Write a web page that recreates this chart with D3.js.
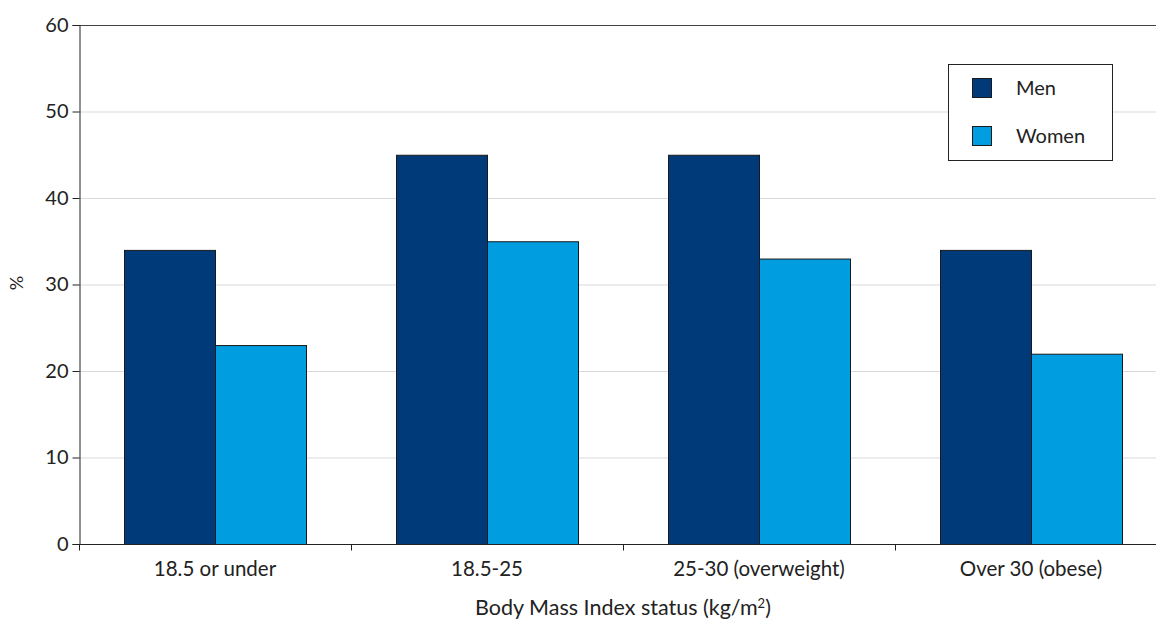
<!DOCTYPE html>
<html><head><meta charset="utf-8">
<script src="https://cdn.jsdelivr.net/npm/d3@7"></script>
<style>body{margin:0;background:#fff}svg{display:block}text{font-family:Lato,"Open Sans",sans-serif;fill:#222}</style>
</head><body><svg id="c" width="1156" height="619"></svg>
<script>
const categories = ["18.5 or under", "18.5-25", "25-30 (overweight)", "Over 30 (obese)"];
const seriesNames = ["Men", "Women"];
const men = [34, 45, 45, 34];
const women = [23, 35, 33, 22];
const yTicks = [0, 10, 20, 30, 40, 50, 60];
const colors = ["#003a78", "#009ee0"];

(function(){
const svg = d3.select("#c");
const pl = 79, pr = 1167, pt = 25, pb = 544;
const x = d3.scaleBand().domain(categories).range([pl, pr]).padding(0);
const bw = x.bandwidth();
const inner = d3.scaleBand().domain(seriesNames).range([45, bw - 45]).padding(0);
const y = d3.scaleLinear().domain([0, 60]).range([pb, pt]);

svg.append("g").selectAll("line").data(yTicks.filter(d => d > 0 && d < 60)).join("line")
  .attr("x1", pl).attr("x2", pr).attr("y1", d => y(d) + 0.5).attr("y2", d => y(d) + 0.5)
  .attr("stroke", "#d9d9d9").attr("stroke-width", 1);
svg.append("line").attr("x1", pl).attr("x2", pr).attr("y1", y(60)+0.5).attr("y2", y(60)+0.5).attr("stroke", "#444");

const data = categories.map((c, i) => ({c, vals: [men[i], women[i]]}));
const g = svg.append("g");
data.forEach(d => {
  d.vals.forEach((v, j) => {
    g.append("rect")
      .attr("x", x(d.c) + inner(seriesNames[j]) + 0.5)
      .attr("y", y(v) + 0.5)
      .attr("width", inner.bandwidth())
      .attr("height", y(0) - y(v))
      .attr("fill", colors[j]).attr("stroke", "#1a1a1a").attr("stroke-width", 1);
  });
});

const yAxis = d3.axisLeft(y).tickValues(yTicks).tickSize(7).tickPadding(4);
const ya = svg.append("g").attr("transform", `translate(${pl+0.5},0)`).call(yAxis);
ya.select(".domain").attr("stroke", "#222");
ya.selectAll(".tick line").attr("stroke", "#222");
ya.selectAll("text").style("font-size", "20px").style("font-family", "Lato").attr("fill", "#222");

const xa = svg.append("g").attr("transform", `translate(0,${pb+0.5})`);
xa.append("line").attr("x1", pl).attr("x2", pr).attr("stroke", "#222");
const bounds = [pl, ...categories.slice(1).map(c => x(c))];
xa.selectAll(".tk").data(bounds).join("line").attr("class","tk")
  .attr("x1", d => d + 0.5).attr("x2", d => d + 0.5).attr("y1", 0).attr("y2", 6).attr("stroke", "#222");
xa.selectAll(".lbl").data(categories).join("text").attr("class","lbl")
  .attr("x", d => x(d) + bw/2).attr("y", 31)
  .attr("text-anchor", "middle").style("font-size", "20.5px").text(d => d);

svg.append("text").attr("transform", "translate(23,283) rotate(-90)").attr("text-anchor", "middle")
  .style("font-size", "18px").text("%");
const xt = svg.append("text").attr("x", 623).attr("y", 615).attr("text-anchor", "middle").style("font-size", "21.5px");
xt.append("tspan").text("Body Mass Index status (kg/m");
xt.append("tspan").attr("dy", -7).style("font-size", "13px").text("2");
xt.append("tspan").attr("dy", 7).text(")");

const lg = svg.append("g");
lg.append("rect").attr("x", 948.5).attr("y", 64.5).attr("width", 164).attr("height", 96)
  .attr("fill", "#fff").attr("stroke", "#222");
seriesNames.forEach((s, i) => {
  lg.append("rect").attr("x", 972.5).attr("y", 78.5 + i*48).attr("width", 19).attr("height", 19)
    .attr("fill", colors[i]).attr("stroke", "#1a1a1a");
  lg.append("text").attr("x", 1016).attr("y", 88 + i*48).attr("dy", "0.35em")
    .style("font-size", "20px").text(s);
});
})();
</script></body></html>
